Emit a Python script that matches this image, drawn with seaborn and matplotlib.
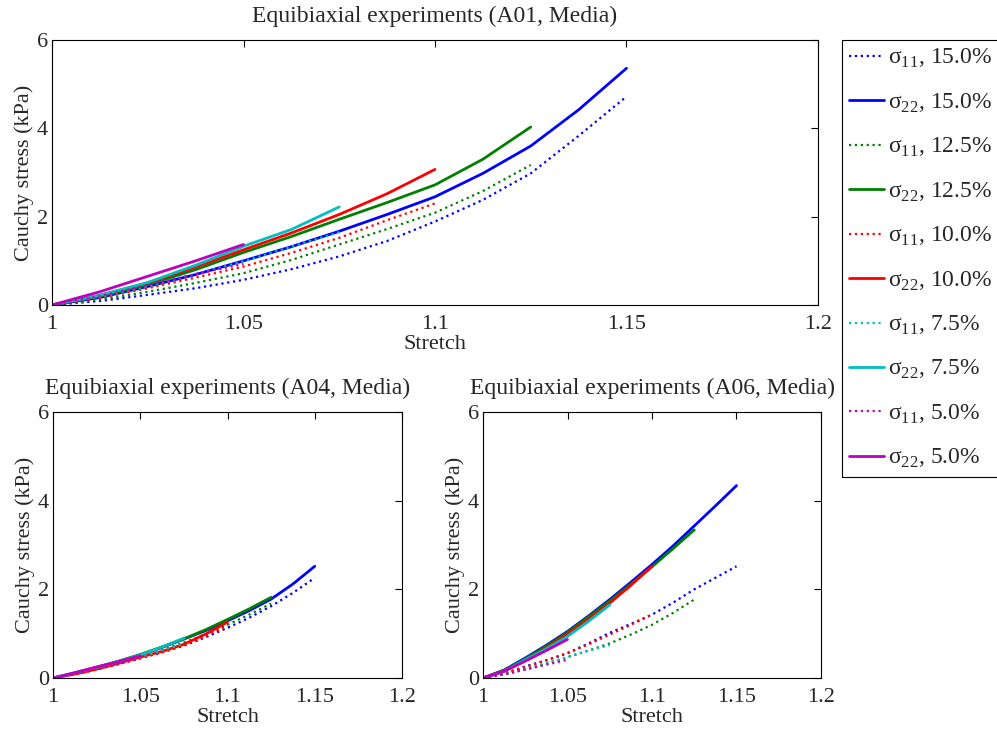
import matplotlib
matplotlib.use("Agg")
import matplotlib.pyplot as plt
import seaborn as sns

# stretch levels (legend order) and their matlab colours
levels = ["15.0%", "12.5%", "10.0%", "7.5%", "5.0%"]
level_colors = ["#0000ff", "#008000", "#ff0000", "#00bfbf", "#bf00bf"]

# stretch grids, one per loading level
stretch_150 = [1.0, 1.0125, 1.025, 1.0375, 1.05, 1.0625, 1.075, 1.0875, 1.1, 1.1125, 1.125, 1.1375, 1.15]
stretch_125 = stretch_150[:11]
stretch_100 = stretch_150[:9]
stretch_075 = stretch_150[:7]
stretch_050 = stretch_150[:5]
stretches = [stretch_150, stretch_125, stretch_100, stretch_075, stretch_050]

# A01 (kPa)
a01_s11 = {
    "15.0%": [0, 0.09, 0.23, 0.38, 0.57, 0.81, 1.10, 1.45, 1.89, 2.38, 2.98, 3.83, 4.72],
    "12.5%": [0, 0.12, 0.30, 0.50, 0.72, 1.02, 1.37, 1.72, 2.09, 2.58, 3.17],
    "10.0%": [0, 0.16, 0.38, 0.62, 0.87, 1.18, 1.52, 1.92, 2.30],
    "7.5%": [0, 0.18, 0.42, 0.70, 0.99, 1.32, 1.65],
    "5.0%": [0, 0.20, 0.45, 0.70, 0.93],
}
a01_s22 = {
    "15.0%": [0, 0.17, 0.42, 0.69, 1.00, 1.32, 1.67, 2.05, 2.45, 2.98, 3.60, 4.42, 5.36],
    "12.5%": [0, 0.20, 0.46, 0.80, 1.19, 1.55, 1.94, 2.32, 2.72, 3.30, 4.03],
    "10.0%": [0, 0.22, 0.50, 0.86, 1.25, 1.63, 2.05, 2.52, 3.07],
    "7.5%": [0, 0.22, 0.51, 0.90, 1.33, 1.71, 2.22],
    "5.0%": [0, 0.30, 0.65, 1.00, 1.37],
}

# A04 (kPa)
a04_s11 = {
    "15.0%": [0, 0.09, 0.20, 0.32, 0.45, 0.58, 0.73, 0.92, 1.13, 1.36, 1.62, 1.92, 2.26],
    "12.5%": [0, 0.10, 0.21, 0.34, 0.48, 0.63, 0.80, 0.99, 1.20, 1.43, 1.68],
    "10.0%": [0, 0.08, 0.19, 0.31, 0.44, 0.58, 0.74, 0.94, 1.18],
    "7.5%": [0, 0.11, 0.22, 0.34, 0.47, 0.62, 0.78],
    "5.0%": [0, 0.10, 0.22, 0.33, 0.45],
}
a04_s22 = {
    "15.0%": [0, 0.10, 0.22, 0.36, 0.52, 0.69, 0.88, 1.07, 1.29, 1.52, 1.78, 2.12, 2.52],
    "12.5%": [0, 0.11, 0.24, 0.38, 0.53, 0.70, 0.88, 1.09, 1.32, 1.56, 1.82],
    "10.0%": [0, 0.09, 0.20, 0.33, 0.47, 0.60, 0.76, 0.99, 1.26],
    "7.5%": [0, 0.12, 0.24, 0.37, 0.52, 0.70, 0.90],
    "5.0%": [0, 0.12, 0.25, 0.37, 0.50],
}

# A06 (kPa)
a06_s11 = {
    "15.0%": [0, 0.10, 0.26, 0.40, 0.56, 0.78, 1.02, 1.22, 1.43, 1.70, 2.00, 2.26, 2.52],
    "12.5%": [0, 0.08, 0.20, 0.33, 0.47, 0.62, 0.78, 0.98, 1.20, 1.47, 1.77],
    "10.0%": [0, 0.10, 0.25, 0.40, 0.56, 0.76, 0.98, 1.20, 1.43],
    "7.5%": [0, 0.08, 0.19, 0.32, 0.47, 0.62, 0.74],
    "5.0%": [0, 0.08, 0.19, 0.30, 0.41],
}
a06_s22 = {
    "15.0%": [0, 0.18, 0.45, 0.74, 1.05, 1.40, 1.77, 2.16, 2.56, 2.98, 3.43, 3.88, 4.34],
    "12.5%": [0, 0.17, 0.43, 0.72, 1.03, 1.38, 1.74, 2.12, 2.51, 2.92, 3.34],
    "10.0%": [0, 0.16, 0.40, 0.68, 0.99, 1.33, 1.69, 2.09, 2.52],
    "7.5%": [0, 0.15, 0.41, 0.66, 0.94, 1.28, 1.65],
    "5.0%": [0, 0.15, 0.38, 0.62, 0.87],
}

sns.set_style("white")
plt.rcParams["font.family"] = ["Liberation Serif", "DejaVu Serif"]
plt.rcParams["mathtext.fontset"] = "custom"
plt.rcParams["mathtext.rm"] = "Liberation Serif"
plt.rcParams["font.size"] = 16

fig = plt.figure(figsize=(9.97, 7.31), dpi=100)
W, H = 997.0, 731.0
ax_top = fig.add_axes([52 / W, 1 - 305 / H, (818 - 52) / W, (305 - 40) / H])
ax_bl = fig.add_axes([53 / W, 1 - 678 / H, (402 - 53) / W, (678 - 412) / H])
ax_br = fig.add_axes([483 / W, 1 - 678 / H, (821 - 483) / W, (678 - 412) / H])

panels = [
    (ax_top, a01_s11, a01_s22, "Equibiaxial experiments (A01, Media)"),
    (ax_bl, a04_s11, a04_s22, "Equibiaxial experiments (A04, Media)"),
    (ax_br, a06_s11, a06_s22, "Equibiaxial experiments (A06, Media)"),
]

for ax, s11, s22, title in panels:
    for lev, col, xs in zip(levels, level_colors, stretches):
        sns.lineplot(x=xs, y=s11[lev], ax=ax, color=col, linestyle=":",
                     linewidth=1.6, estimator=None, sort=False,
                     label="σ$_{11}$, " + lev)
        sns.lineplot(x=xs, y=s22[lev], ax=ax, color=col, linestyle="-",
                     linewidth=2.0, estimator=None, sort=False,
                     label="σ$_{22}$, " + lev)
    ax.set_xlim(1, 1.2)
    ax.set_ylim(0, 6)
    ax.set_xticks([1, 1.05, 1.1, 1.15, 1.2])
    ax.set_xticklabels(["1", "1.05", "1.1", "1.15", "1.2"])
    ax.set_yticks([0, 2, 4, 6])
    ax.tick_params(direction="in", top=True, right=True, length=5,
                   labelsize=16, color="black")
    ax.tick_params(axis="x", pad=7)
    ax.tick_params(axis="y", pad=3)
    for sp in ax.spines.values():
        sp.set_color("black")
        sp.set_linewidth(0.8)
    ax.set_xlabel("Stretch", fontsize=16, labelpad=1)
    ax.set_ylabel("Cauchy stress (kPa)", fontsize=16, labelpad=2)
    ax.set_title(title, fontsize=17, pad=13)
    ax.get_legend().remove()

handles, labels = ax_top.get_legend_handles_labels()
leg = fig.legend(handles, labels, loc="upper left",
                 bbox_to_anchor=(842 / W, 1 - 40 / H), borderaxespad=0,
                 fancybox=False, edgecolor="black", framealpha=1,
                 fontsize=17, handlelength=1.48, handletextpad=0.17,
                 labelspacing=0.9, borderpad=0.3)
leg.get_frame().set_linewidth(0.8)

fig.savefig("out.png", dpi=100)
